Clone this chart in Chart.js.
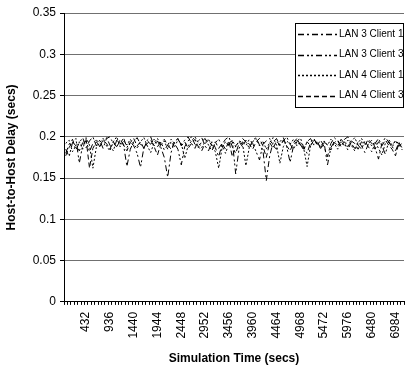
<!DOCTYPE html>
<html>
<head>
<meta charset="utf-8">
<script src="https://cdn.jsdelivr.net/npm/chart.js@4.4.0/dist/chart.umd.min.js"></script>
<style>
  html, body { margin: 0; padding: 0; background: #fff; }
  #wrap { width: 408px; height: 367px; }
</style>
</head>
<body>
<div id="wrap"><canvas id="delay-chart"></canvas></div>
<script>
// simulation time (secs), one point every 72 s
var times = [0,72,144,216,288,360,432,504,576,648,
  720,792,864,936,1008,1080,1152,1224,1296,1368,
  1440,1512,1584,1656,1728,1800,1872,1944,2016,2088,
  2160,2232,2304,2376,2448,2520,2592,2664,2736,2808,
  2880,2952,3024,3096,3168,3240,3312,3384,3456,3528,
  3600,3672,3744,3816,3888,3960,4032,4104,4176,4248,
  4320,4392,4464,4536,4608,4680,4752,4824,4896,4968,
  5040,5112,5184,5256,5328,5400,5472,5544,5616,5688,
  5760,5832,5904,5976,6048,6120,6192,6264,6336,6408,
  6480,6552,6624,6696,6768,6840,6912,6984,7056,7128];

var tickLabels = ["432","936","1440","1944","2448","2952","3456","3960","4464","4968","5472","5976","6480","6984"];

var lan3client1 = [0.180,0.191,0.197,0.184,0.193,0.199,0.187,0.195,0.200,0.189,
  0.196,0.186,0.198,0.200,0.192,0.188,0.197,0.191,0.164,0.185,
  0.194,0.199,0.191,0.186,0.196,0.200,0.189,0.195,0.187,0.175,
  0.151,0.181,0.194,0.198,0.190,0.196,0.200,0.192,0.186,0.195,
  0.199,0.189,0.183,0.194,0.187,0.176,0.191,0.197,0.200,0.188,
  0.180,0.192,0.198,0.194,0.186,0.196,0.199,0.190,0.184,0.147,
  0.177,0.193,0.198,0.189,0.195,0.200,0.191,0.185,0.194,0.199,
  0.187,0.180,0.193,0.198,0.190,0.196,0.188,0.176,0.192,0.199,
  0.195,0.188,0.197,0.200,0.192,0.186,0.194,0.189,0.181,0.191,
  0.196,0.187,0.173,0.192,0.199,0.194,0.188,0.183,0.193,0.189];

var lan3client3 = [0.185,0.176,0.193,0.198,0.168,0.190,0.195,0.182,0.192,0.197,
  0.188,0.194,0.199,0.190,0.183,0.196,0.191,0.199,0.187,0.194,
  0.189,0.180,0.163,0.187,0.195,0.191,0.197,0.188,0.194,0.184,
  0.190,0.197,0.192,0.185,0.166,0.188,0.195,0.200,0.191,0.187,
  0.194,0.198,0.190,0.183,0.193,0.197,0.189,0.180,0.192,0.196,
  0.155,0.186,0.194,0.189,0.197,0.192,0.182,0.172,0.191,0.195,
  0.198,0.189,0.185,0.194,0.199,0.188,0.169,0.189,0.196,0.191,
  0.184,0.194,0.198,0.190,0.195,0.185,0.193,0.166,0.187,0.194,
  0.189,0.197,0.192,0.184,0.194,0.199,0.190,0.185,0.195,0.188,
  0.182,0.192,0.198,0.189,0.179,0.194,0.187,0.196,0.191,0.184];

var lan4client1 = [0.192,0.196,0.182,0.189,0.194,0.185,0.199,0.190,0.162,0.187,
  0.193,0.198,0.189,0.183,0.194,0.200,0.188,0.195,0.190,0.197,
  0.191,0.186,0.194,0.199,0.189,0.181,0.193,0.198,0.190,0.195,
  0.185,0.194,0.188,0.196,0.192,0.174,0.189,0.195,0.200,0.193,
  0.187,0.194,0.197,0.190,0.182,0.162,0.187,0.194,0.189,0.196,
  0.188,0.195,0.192,0.165,0.187,0.194,0.198,0.189,0.195,0.185,
  0.193,0.199,0.190,0.168,0.188,0.195,0.191,0.197,0.189,0.194,
  0.186,0.164,0.189,0.196,0.193,0.188,0.195,0.190,0.197,0.192,
  0.185,0.194,0.189,0.196,0.190,0.183,0.193,0.198,0.191,0.195,
  0.189,0.194,0.186,0.178,0.192,0.197,0.190,0.195,0.188,0.193];

var lan4client3 = [0.177,0.187,0.194,0.189,0.183,0.193,0.197,0.162,0.186,0.194,
  0.189,0.196,0.192,0.185,0.194,0.188,0.195,0.190,0.183,0.193,
  0.198,0.189,0.194,0.186,0.192,0.196,0.188,0.178,0.192,0.197,
  0.190,0.185,0.193,0.198,0.189,0.194,0.186,0.192,0.197,0.188,
  0.183,0.192,0.196,0.189,0.194,0.186,0.192,0.185,0.195,0.176,
  0.189,0.194,0.188,0.196,0.191,0.185,0.194,0.198,0.189,0.175,
  0.193,0.186,0.195,0.190,0.196,0.189,0.183,0.193,0.198,0.190,
  0.185,0.194,0.189,0.196,0.192,0.186,0.194,0.190,0.184,0.193,
  0.196,0.189,0.194,0.188,0.195,0.192,0.185,0.194,0.190,0.197,
  0.192,0.185,0.194,0.189,0.196,0.190,0.185,0.177,0.193,0.186];

var seriesNames = ["LAN 3 Client 1", "LAN 3 Client 3", "LAN 4 Client 1", "LAN 4 Client 3"];
var seriesDash = [[6,3,2,3], [6,3,2,2,2,3], [2,2], [5,3]];

Chart.defaults.font.family = "'Liberation Sans', Arial, sans-serif";
Chart.defaults.color = '#000';

// excel-like legend box inside the plot, top right
var boxLegend = {
  id: 'boxLegend',
  afterDatasetsDraw: function(chart) {
    var ctx = chart.ctx;
    var x = 295, y = 23, w = 108, h = 84;
    ctx.save();
    ctx.fillStyle = '#fff';
    ctx.fillRect(x, y, w, h);
    ctx.strokeStyle = '#000';
    ctx.lineWidth = 1;
    ctx.strokeRect(x + 0.5, y + 0.5, w, h);
    ctx.font = "10px 'Liberation Sans', Arial, sans-serif";
    ctx.fillStyle = '#000';
    ctx.textBaseline = 'middle';
    chart.data.datasets.forEach(function(ds, i) {
      var ly = y + 11 + i * 20.5;
      ctx.beginPath();
      ctx.setLineDash(ds.borderDash);
      ctx.lineWidth = 1.5;
      ctx.moveTo(x + 3, Math.round(ly) + 0.5);
      ctx.lineTo(x + 42, Math.round(ly) + 0.5);
      ctx.stroke();
      ctx.setLineDash([]);
      ctx.fillText(ds.label, x + 44, ly);
    });
    ctx.restore();
  }
};

var dataLists = [lan3client1, lan3client3, lan4client1, lan4client3];

new Chart(document.getElementById('delay-chart'), {
  type: 'line',
  data: {
    labels: times,
    datasets: dataLists.map(function(vals, i) {
      return {
        label: seriesNames[i],
        data: vals,
        borderColor: '#000',
        borderWidth: 1,
        borderDash: seriesDash[i],
        pointRadius: 0,
        tension: 0,
        fill: false
      };
    })
  },
  options: {
    responsive: true,
    maintainAspectRatio: false,
    animation: false,
    layout: { padding: { left: 4, right: 4, top: 13, bottom: 1 } },
    plugins: {
      legend: { display: false },
      tooltip: { enabled: false }
    },
    scales: {
      x: {
        offset: true,
        grid: { drawOnChartArea: false, offset: true, tickLength: 3, color: '#000' },
        border: { color: '#000', width: 1 },
        ticks: {
          autoSkip: false,
          maxRotation: 90,
          minRotation: 90,
          padding: 7,
          font: { size: 12 },
          callback: function(v, i) {
            var t = String(times[i]);
            return tickLabels.indexOf(t) >= 0 ? t : '';
          }
        },
        title: {
          display: true,
          text: 'Simulation Time (secs)',
          font: { size: 12, weight: 'bold' },
          padding: { top: 6, bottom: 0 }
        },
        afterFit: function(s) { s.paddingLeft = 0; s.paddingRight = 0; }
      },
      y: {
        min: 0,
        max: 0.35,
        ticks: {
          stepSize: 0.05,
          padding: 4,
          font: { size: 12 },
          callback: function(v) { return +v.toFixed(2); }
        },
        grid: { color: '#707070', tickColor: '#000', tickLength: 4 },
        border: { color: '#000', width: 1 },
        title: {
          display: true,
          text: 'Host-to-Host Delay (secs)',
          font: { size: 12, weight: 'bold' },
          padding: { top: 0, bottom: 6 }
        },
        afterFit: function(s) { s.width = 60; s.paddingTop = 0; s.paddingBottom = 0; }
      }
    }
  },
  plugins: [boxLegend]
});
</script>
</body>
</html>
